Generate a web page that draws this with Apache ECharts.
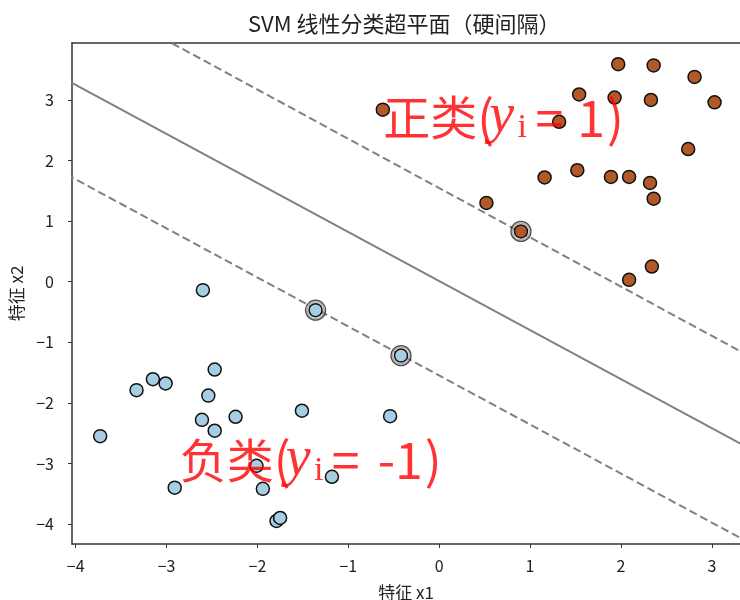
<!DOCTYPE html>
<html>
<head>
<meta charset="utf-8">
<script src="https://cdn.jsdelivr.net/npm/echarts@6/dist/echarts.min.js"></script>
<style>html,body{margin:0;padding:0;background:#fff;}#c{width:740px;height:600px;}</style>
</head>
<body>
<div id="c"></div>
<script>
// Positive class (y = 1)
var posX = [-0.62, 1.97, 2.36, 2.81, 1.54, 1.93, 2.33, 3.03, 1.32, 2.74, 1.16, 1.52, 1.89, 2.09, 2.32, 2.36, 0.52, 0.90, 2.34, 2.09];
var posY = [2.84, 3.59, 3.57, 3.38, 3.09, 3.04, 3.00, 2.96, 2.64, 2.19, 1.72, 1.84, 1.73, 1.73, 1.63, 1.37, 1.30, 0.83, 0.25, 0.03];
// Negative class (y = -1)
var negX = [-2.60, -1.36, -0.42, -2.47, -3.33, -3.15, -3.01, -2.54, -2.61, -2.47, -2.24, -1.51, -0.54, -3.73, -2.01, -2.91, -1.94, -1.18, -1.79, -1.75];
var negY = [-0.14, -0.47, -1.22, -1.45, -1.79, -1.61, -1.68, -1.88, -2.28, -2.46, -2.23, -2.13, -2.22, -2.55, -3.04, -3.40, -3.42, -3.22, -3.95, -3.90];
// Support vectors
var svX = [0.90, -1.36, -0.42];
var svY = [0.83, -0.47, -1.22];
// Hyperplane and margins (endpoints)
var lineX = [-4.1, 3.4];
var hyperY = [3.33, -2.74];
var upperY = [4.88, -1.22];
var lowerY = [1.77, -4.30];
// Ticks
var xTicks = [-4, -3, -2, -1, 0, 1, 2, 3];
var yTicks = [-4, -3, -2, -1, 0, 1, 2, 3];
// Annotations
var annotX = [-0.62, -2.86];
var annotY = [2.71, -2.95];
var annotName = ['正类', '负类'];
var annotVal = ['1', '-1'];

function zip(a, b) { return a.map(function (v, i) { return [v, b[i]]; }); }
function fmtMinus(v) { return String(v).replace('-', '\u2212'); }

var FONT = '"Noto Sans CJK SC", "DejaVu Sans", sans-serif';
var SERIF = '"Liberation Serif", "DejaVu Serif", serif';
var axisColor = '#333';

var chart = echarts.init(document.getElementById('c'), null, { renderer: 'canvas' });
var lineStyleBase = { color: '#808080', width: 2 };
var RED = '#ff0000';

chart.setOption({
  backgroundColor: '#fff',
  animation: false,
  title: {
    text: 'SVM 线性分类超平面（硬间隔）',
    left: 243, top: 8,
    textStyle: { fontFamily: FONT, fontSize: 22, fontWeight: 'normal', color: '#222' }
  },
  grid: { left: 72, right: 0, top: 43, bottom: 56, outerBoundsMode: 'none', containLabel: false },
  xAxis: [{
    type: 'value', min: -4.04, max: 3.31,
    name: '特征 x1', nameLocation: 'middle', nameGap: 40,
    nameTextStyle: { fontFamily: FONT, fontSize: 17, color: '#222' },
    axisLine: { show: true, onZero: false, lineStyle: { color: axisColor, width: 1.5 } },
    axisTick: { show: true, length: 4, inside: false, customValues: xTicks, lineStyle: { color: axisColor, width: 1 } },
    axisLabel: { customValues: xTicks, margin: 14, fontFamily: FONT, fontSize: 16, color: '#222', formatter: fmtMinus },
    splitLine: { show: false }
  }, {
    type: 'value', position: 'top', min: -4.04, max: 3.31,
    axisLine: { show: true, onZero: false, lineStyle: { color: axisColor, width: 1.5 } },
    axisTick: { show: false }, axisLabel: { show: false }, splitLine: { show: false }
  }],
  yAxis: [{
    type: 'value', min: -4.33, max: 3.94,
    name: '特征 x2', nameLocation: 'middle', nameGap: 44, nameRotate: 90,
    nameTextStyle: { fontFamily: FONT, fontSize: 17, color: '#222' },
    axisLine: { show: true, onZero: false, lineStyle: { color: axisColor, width: 1.5 } },
    axisTick: { show: true, length: 4, customValues: yTicks, lineStyle: { color: axisColor, width: 1 } },
    axisLabel: { customValues: yTicks, margin: 18, fontFamily: FONT, fontSize: 16, color: '#222', formatter: fmtMinus },
    splitLine: { show: false }
  }],
  series: [
    { type: 'line', data: zip(lineX, hyperY), symbol: 'none', clip: true, z: 1,
      lineStyle: Object.assign({}, lineStyleBase, { type: 'solid' }) },
    { type: 'line', data: zip(lineX, upperY), symbol: 'none', clip: true, z: 1,
      lineStyle: Object.assign({}, lineStyleBase, { type: [8, 4] }) },
    { type: 'line', data: zip(lineX, lowerY), symbol: 'none', clip: true, z: 1,
      lineStyle: Object.assign({}, lineStyleBase, { type: [8, 4] }) },
    { type: 'scatter', data: zip(negX, negY), symbolSize: 13, z: 3,
      itemStyle: { color: '#a6cee3', borderColor: '#111', borderWidth: 1.5, opacity: 1 } },
    { type: 'scatter', data: zip(posX, posY), symbolSize: 13, z: 3,
      itemStyle: { color: '#b15928', borderColor: '#111', borderWidth: 1.5, opacity: 1 } },
    { type: 'scatter', data: zip(svX, svY), symbolSize: 17, z: 4, silent: true,
      itemStyle: { color: 'rgba(0,0,0,0)', borderColor: '#999', borderWidth: 1.5 } },
    { type: 'scatter', data: zip(svX, svY), symbolSize: 20, z: 4, silent: true,
      itemStyle: { color: 'rgba(0,0,0,0)', borderColor: '#222', borderWidth: 1.3 } },
    { type: 'scatter', z: 10, silent: true, symbolSize: 1,
      itemStyle: { color: 'rgba(0,0,0,0)' },
      data: annotX.map(function (x, i) { return { value: [x, annotY[i]], name: annotName[i] }; }),
      label: {
        show: true, position: 'right', distance: 0,
        formatter: function (p) {
          var v = annotVal[p.dataIndex];
          var vs = v.charAt(0) === '-' ? 'valn' : 'val';
          return '{zh|' + annotName[p.dataIndex] + '}{lp|(}{y|y}{sub|i}{eq|=}{' + vs + '|' + v + '}{rp|)}';
        },
        rich: {
          zh: { fontFamily: FONT, fontSize: 47, color: RED, lineHeight: 56 },
          lp: { fontFamily: FONT, fontSize: 50, color: RED, lineHeight: 56, width: 12, align: 'left' },
          y: { fontFamily: SERIF, fontStyle: 'italic', fontSize: 56, color: RED, lineHeight: 56, width: 28, align: 'left' },
          sub: { fontFamily: SERIF, fontSize: 34, color: RED, lineHeight: 30, verticalAlign: 'bottom', width: 10, align: 'center' },
          eq: { fontFamily: FONT, fontSize: 50, color: RED, lineHeight: 56, width: 44, align: 'center' },
          val: { fontFamily: FONT, fontSize: 50, color: RED, lineHeight: 56, padding: [0, 0, 0, 6] },
          valn: { fontFamily: FONT, fontSize: 50, color: RED, lineHeight: 56, padding: [0, 0, 0, 10] },
          rp: { fontFamily: FONT, fontSize: 50, color: RED, lineHeight: 56, padding: [0, 0, 0, 2] }
        }
      }
    }
  ]
});
</script>
</body>
</html>
